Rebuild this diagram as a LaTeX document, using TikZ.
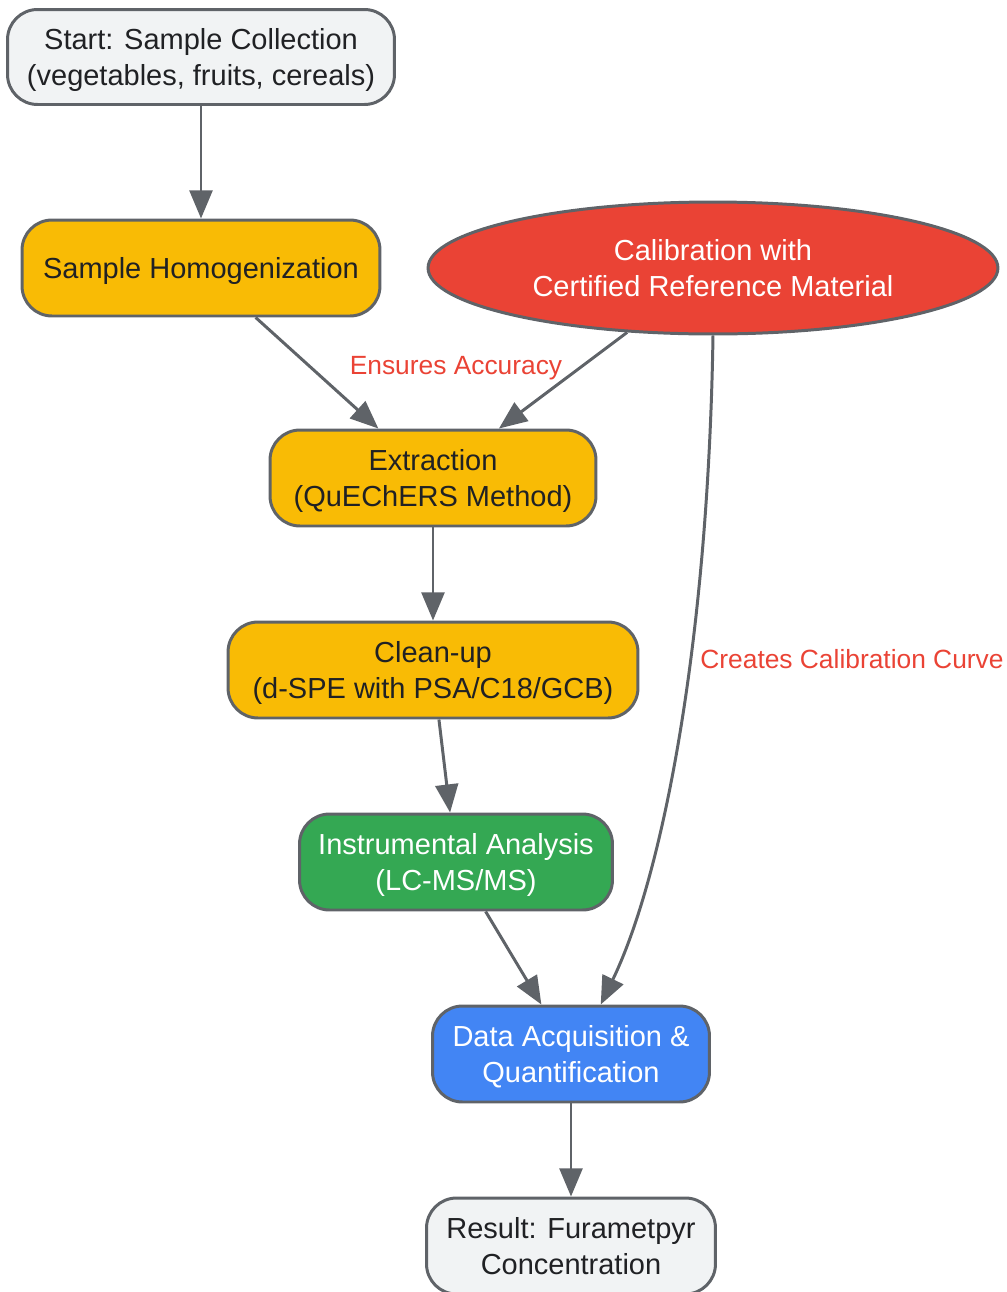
\documentclass[tikz,border=0pt]{standalone}
\usepackage{fontspec}
\setmainfont{Liberation Sans}
\usetikzlibrary{shapes.geometric,arrows.meta}
\definecolor{edgegray}{HTML}{5F6368}
\definecolor{textdark}{HTML}{202124}
\definecolor{startgray}{HTML}{F1F3F4}
\definecolor{prepyellow}{HTML}{F9BB05}
\definecolor{calred}{HTML}{EA4335}
\definecolor{instgreen}{HTML}{34A853}
\definecolor{datablue}{HTML}{4285F4}
\begin{document}
\begin{tikzpicture}[x=0.02cm,y=-0.02cm,>={Triangle[length=16pt,width=13pt]},
	box/.style={draw=edgegray,line width=1.7pt,rounded corners=0.6cm,align=center,inner sep=0pt,minimum height=1.92cm,text depth=0pt,text=textdark,font=\fontsize{16.5}{20.4}\selectfont},
	link/.style={draw=edgegray,line width=1.7pt,->},
	lbl/.style={text=calred,text depth=0pt,font=\fontsize{15}{18}\selectfont}]
	\useasboundingbox (0,0) rectangle (1007,1292);
	\node[box,fill=startgray,minimum width=7.74cm,minimum height=1.9cm] (start) at (201,57) {Start: Sample Collection\\(vegetables, fruits, cereals)};
	\node[box,fill=prepyellow,minimum width=7.16cm] (homog) at (201,268) {Sample Homogenization};
	\node[ellipse,draw=edgegray,line width=1.7pt,fill=calred,text=white,align=center,inner sep=0pt,minimum width=11.4cm,minimum height=2.64cm,text depth=0pt,font=\fontsize{16.5}{20.4}\selectfont] (cal) at (713,268) {Calibration with\\Certified Reference Material};
	\node[box,fill=prepyellow,minimum width=6.52cm] (extract) at (433,478) {Extraction\\(QuEChERS Method)};
	\node[box,fill=prepyellow,minimum width=8.2cm] (cleanup) at (433,670) {Clean-up\\(d-SPE with PSA/C18/GCB)};
	\node[box,fill=instgreen,text=white,minimum width=6.26cm] (instr) at (456,862) {Instrumental Analysis\\(LC-MS/MS)};
	\node[box,fill=datablue,text=white,minimum width=5.54cm] (data) at (571,1054) {Data Acquisition \&\\Quantification};
	\node[box,fill=startgray,minimum width=5.78cm] (result) at (571,1246) {Result: Furametpyr\\Concentration};
	% connectors
	\draw[link] (start)--(homog);
	\draw[link] (homog)--(extract);
	\draw[link] (cal)--(extract);
	\draw[link] (extract)--(cleanup);
	\draw[link] (cleanup)--(instr);
	\draw[link] (instr)--(data);
	\draw[link] (cal.south) .. controls +(-5,316) and +(60,-124) .. (data.59);
	\draw[link] (data)--(result);
	% labels
	\node[lbl] (lblacc) at (456,365) {Ensures Accuracy};
	\node[lbl] (lblcurve) at (852,659) {Creates Calibration Curve};
\end{tikzpicture}
\end{document}
